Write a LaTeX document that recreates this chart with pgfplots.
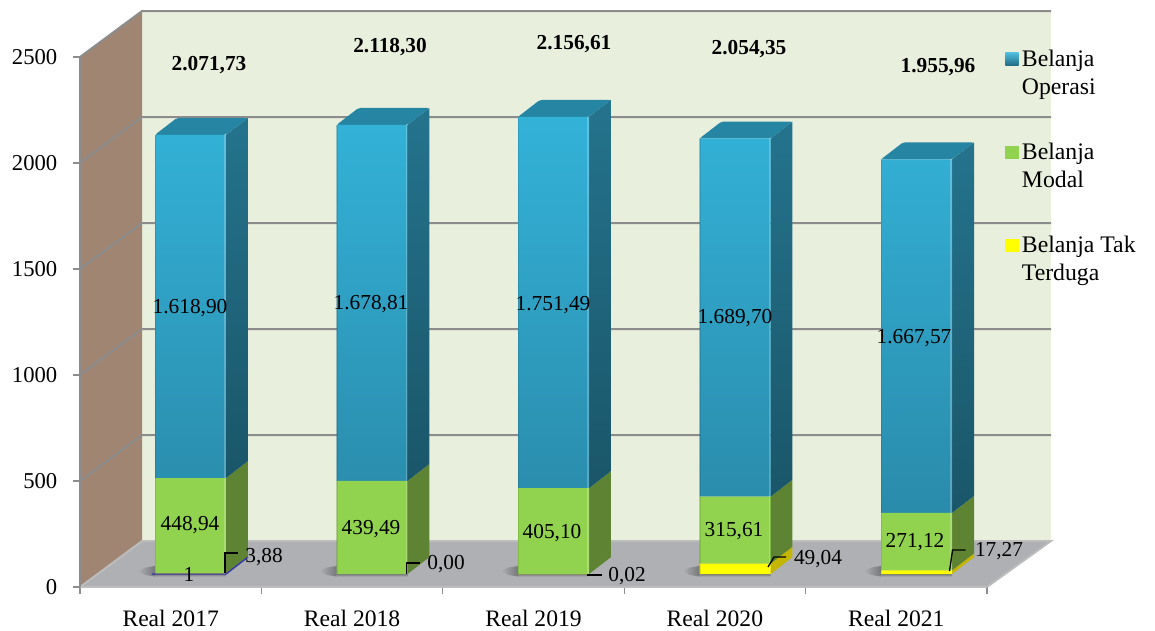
\documentclass[border=0pt]{standalone}
\usepackage{pgfplots}
\pgfplotsset{compat=1.18}
\usepackage{fontspec}
\setmainfont{Liberation Serif}
\definecolor{wallback}{HTML}{E9EFDD}
\definecolor{wallside}{HTML}{A08672}
\definecolor{floorc}{HTML}{AEB0B3}
\definecolor{gridc}{HTML}{8C8C8C}
\definecolor{edgec}{HTML}{BDBDBD}
\definecolor{bluetop}{HTML}{33B2D8}
\definecolor{bluebot}{HTML}{2A8BAB}
\definecolor{bluesidetop}{HTML}{24738D}
\definecolor{bluesidebot}{HTML}{1A5669}
\definecolor{bluecap}{HTML}{2585A3}
\definecolor{greenfront}{HTML}{91D34F}
\definecolor{greenside}{HTML}{5E8433}
\definecolor{yel}{HTML}{FFFF00}
\definecolor{yelside}{HTML}{C4B600}
\definecolor{shadowc}{HTML}{75777A}
\pgfplotsset{
  common/.style={scale only axis,width=680.25pt,height=397.5pt,clip=false},
  shifted/.style={common,hide axis,xmin=-0.6088,xmax=4.3884,ymin=-61.32,ymax=2438.68},
}
\newcommand\sideface[5]{%
  \pgfmathsetmacro\xa{#1+0.1956}\pgfmathsetmacro\xb{#1+0.3166}%
  \pgfmathsetmacro\loB{#2+80}\pgfmathsetmacro\hiB{#3+80}%
  \addplot[draw=none,top color=#4,bottom color=#5] coordinates {(\xa,#2)(\xb,\loB)(\xb,\hiB)(\xa,#3)} -- cycle;}
\newcommand\capface[2]{%
  \pgfmathsetmacro\xa{#1-0.1956}\pgfmathsetmacro\xb{#1+0.1956}%
  \pgfmathsetmacro\xc{#1+0.3166}\pgfmathsetmacro\xd{#1-0.0746}\pgfmathsetmacro\hiB{#2+80}%
  \addplot[draw=none,fill=bluecap,rounded corners=1.5pt] coordinates {(\xa,#2)(\xb,#2)(\xc,\hiB)(\xd,\hiB)} -- cycle;}
\newcommand\shadow[1]{%
  \pgfmathsetmacro\xa{#1-0.29}\pgfmathsetmacro\xb{#1-0.1956}\pgfmathsetmacro\xc{#1+0.1956}\pgfmathsetmacro\xm{#1-0.25}%
  \addplot[draw=none,left color=floorc,right color=shadowc] coordinates {(\xa,14)(\xm,30)(\xb,38)(\xb,-12)(\xm,-4)} -- cycle;
  \addplot[draw=none,top color=shadowc,bottom color=floorc] coordinates {(\xb,0)(\xc,0)(\xc,-12)(\xb,-12)} -- cycle;}
\newcommand\edge[2]{%
  \pgfmathsetmacro\xa{#1+0.19}\pgfmathsetmacro\xb{#1-0.193}%
  \addplot[draw=white,draw opacity=0.22,line width=1.2pt] coordinates {(\xa,#2)(\xa,0)};
  \addplot[draw=black,draw opacity=0.10,line width=0.8pt] coordinates {(\xb,#2)(\xb,0)};}
\newcommand\lab[3]{\node[inner sep=0pt,font=\fontsize{16}{19}\selectfont] at (axis cs:{(#1-190.5)/181.5},{(574-#2-1.5)/0.212}) {#3};}
\begin{document}
\begin{tikzpicture}
% frame: walls, floor, grid, ticks
\begin{axis}[common,axis on top,
  xmin=0,xmax=5,ymin=0,ymax=2500,
  axis x line*=bottom,axis y line*=left,
  axis line style={draw=gridc,line width=1.5pt,-},
  x axis line style={draw=edgec},
  ytick={0,500,1000,1500,2000,2500},
  xtick={0.5,1.5,2.5,3.5,4.5},
  xticklabels={Real 2017,Real 2018,Real 2019,Real 2020,Real 2021},
  minor xtick={0,1,2,3,4,5},
  major x tick style={draw=none},
  minor x tick style={draw=gridc,line width=0.9pt},
  y tick style={draw=gridc,line width=0.9pt},
  tick align=outside,
  major tick length=5.5pt,minor tick length=5.5pt,
  /pgf/number format/assume math mode=true,
  /pgf/number format/1000 sep={},
  tick label style={font=\fontsize{17}{20}\selectfont},
  xticklabel style={yshift=-8pt,font=\fontsize{17.7}{20}\selectfont},
  yticklabel style={xshift=-8pt},
]
\path (axis cs:-0.441,-188.7) rectangle (axis cs:5.926,2768.9);
\addplot[draw=none,fill=wallback] coordinates {(0.342,217)(5.353,217)(5.353,2717)(0.342,2717)} -- cycle;
\addplot[draw=none,fill=wallside] coordinates {(0,0)(0.342,217)(0.342,2717)(0,2500)} -- cycle;
\addplot[draw=none,fill=floorc] coordinates {(0,0)(5,0)(5.353,217)(0.342,217)} -- cycle;
\addplot[draw=edgec,line width=1.4pt] coordinates {(5,0)(5.353,217)(0.342,217)(0,0)};
\addplot[draw=gridc,line width=1.5pt] coordinates {(0,500)(0.342,717)(5.353,717)};
\addplot[draw=gridc,line width=1.5pt] coordinates {(0,1000)(0.342,1217)(5.353,1217)};
\addplot[draw=gridc,line width=1.5pt] coordinates {(0,1500)(0.342,1717)(5.353,1717)};
\addplot[draw=gridc,line width=1.5pt] coordinates {(0,2000)(0.342,2217)(5.353,2217)};
\addplot[draw=gridc,line width=1.5pt] coordinates {(0,2500)(0.342,2717)(5.353,2717)};
\end{axis}
% 3D faces of the bars
\begin{axis}[shifted]
\shadow{0}\shadow{1}\shadow{2}\shadow{3}\shadow{4}
\sideface{0}{0}{3.88}{yelside}{yelside}
\sideface{0}{3.88}{452.82}{greenside}{greenside}
\sideface{0}{452.82}{2071.72}{bluesidetop}{bluesidebot}
\capface{0}{2071.72}
\sideface{1}{0}{439.49}{greenside}{greenside}
\sideface{1}{439.49}{2118.30}{bluesidetop}{bluesidebot}
\capface{1}{2118.30}
\sideface{2}{0.02}{405.12}{greenside}{greenside}
\sideface{2}{405.12}{2156.61}{bluesidetop}{bluesidebot}
\capface{2}{2156.61}
\sideface{3}{0}{49.04}{yelside}{yelside}
\sideface{3}{49.04}{364.65}{greenside}{greenside}
\sideface{3}{364.65}{2054.35}{bluesidetop}{bluesidebot}
\capface{3}{2054.35}
\sideface{4}{0}{17.27}{yelside}{yelside}
\sideface{4}{17.27}{288.39}{greenside}{greenside}
\sideface{4}{288.39}{1955.96}{bluesidetop}{bluesidebot}
\capface{4}{1955.96}
\end{axis}
% the bars and legend
\begin{axis}[shifted,ybar stacked,bar width=0.391,
  legend image code/.code={\path[#1,draw=none] (0pt,5.5pt) rectangle (10pt,15.5pt);},
  reverse legend,
  legend cell align=left,
  legend style={at={(1.0198,1.0137)},anchor=north west,draw=none,fill=none,inner sep=0pt,
    nodes={align=left,font=\fontsize{17.8}{21}\selectfont,inner xsep=2.5pt,inner ysep=0pt},
    row sep=35pt},
]
\addplot[draw=none,fill=yel,legend image post style={top color=yel!80!white,bottom color=yelside}] coordinates {(0,3.88)(1,0.00)(2,0.02)(3,49.04)(4,17.27)};
\addplot[draw=none,fill=greenfront,legend image post style={top color=greenfront!85!white,bottom color=greenside}] coordinates {(0,448.94)(1,439.49)(2,405.10)(3,315.61)(4,271.12)};
\addplot[draw=none,top color=bluetop,bottom color=bluebot,legend image post style={top color=bluetop!85!white,bottom color=bluesidebot!80!bluetop}] coordinates {(0,1618.90)(1,1678.81)(2,1751.49)(3,1689.70)(4,1667.57)};
\legend{{Belanja Tak\\Terduga},{Belanja\\Modal},{Belanja\\Operasi}}
\end{axis}
% leader lines and value labels, on top of the bars
\begin{axis}[shifted]
\edge{0}{2071.72}\edge{1}{2118.30}\edge{2}{2156.61}\edge{3}{2054.35}\edge{4}{1955.96}
\addplot[draw=blue!60!black!80,line width=1pt] coordinates {(-0.212,0)(0.1956,0)(0.3166,80)};
\addplot[draw=black,line width=1pt] coordinates {(0.1901,7)(0.1901,99)(0.2617,99)};
\addplot[draw=black,line width=1pt] coordinates {(1.1901,0)(1.1901,52)(1.2617,52)};
\addplot[draw=black,line width=1pt] coordinates {(2.1846,-5)(2.2677,-5)};
\addplot[draw=black,line width=1pt] coordinates {(3.1818,33)(3.2149,80)(3.2810,80)};
\addplot[draw=black,line width=1pt] coordinates {(4.1818,14)(4.1983,113)(4.2700,113)};
\lab{190}{307}{1.618,90}\lab{371}{303}{1.678,81}\lab{553}{304}{1.751,49}\lab{735}{317}{1.689,70}\lab{914}{337}{1.667,57}
\lab{190}{524}{448,94}\lab{371}{528}{439,49}\lab{552}{532}{405,10}\lab{734}{530}{315,61}\lab{915}{541}{271,12}
\lab{264}{556}{3,88}\lab{446}{563}{0,00}\lab{627}{575}{0,02}\lab{818}{558}{49,04}\lab{999}{550}{17,27}\lab{189}{573}{1}
\lab{209}{64}{\textbf{2.071,73}}\lab{390}{46}{\textbf{2.118,30}}\lab{574}{43}{\textbf{2.156,61}}\lab{749}{48}{\textbf{2.054,35}}\lab{938}{66}{\textbf{1.955,96}}
\end{axis}
\end{tikzpicture}
\end{document}
